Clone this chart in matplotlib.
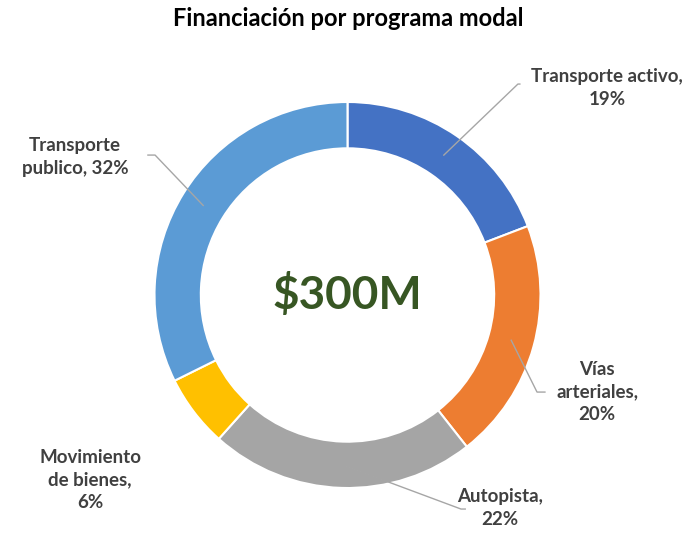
import matplotlib.pyplot as plt
import numpy as np

plt.rcParams['font.family'] = ['Lato', 'DejaVu Sans']

# DATA
labels = ['Transporte activo,\n19%', 'Vías\narteriales,\n20%', 'Autopista,\n22%',
          'Movimiento\nde bienes,\n6%', 'Transporte\npublico, 32%']
shares = [19, 20, 22, 6, 32]
colors = ['#4472C4', '#ED7D31', '#A5A5A5', '#FFC000', '#5B9BD5']
total = '$300M'

# label text centres and leader kinks (data units, radius = 1)
text_xy = [(1.345, 1.073), (1.293, -0.503), (0.79, -1.104), (-1.334, -0.959), (-1.412, 0.715)]
kinks = [((0.883, 1.093), (0.893, 1.093)),
         ((0.982, -0.503), (1.023, -0.503)),
         ((0.588, -1.109), (0.61, -1.109)),
         None,
         ((-0.997, 0.725), (-1.034, 0.725))]

W, H = 697, 536
fig = plt.figure(figsize=(W/100, H/100), dpi=100)
cx, cy, r = 347.5, 295, 193
ax = fig.add_axes([(cx-r)/W, (H-cy-r)/H, 2*r/W, 2*r/H])

wedges, _ = ax.pie(shares, colors=colors, startangle=90, counterclock=False, radius=1,
                   wedgeprops=dict(width=0.24, edgecolor='white', linewidth=1.5))
ax.set_xlim(-1, 1)
ax.set_ylim(-1, 1)
ax.set_aspect('equal')
ax.axis('off')

tot = sum(shares)
cum = np.cumsum([0] + shares)
for i, lab in enumerate(labels):
    mid = (cum[i] + shares[i]/2) / tot * 2*np.pi
    sx, sy = 0.88*np.sin(mid), 0.88*np.cos(mid)
    if kinks[i] is not None:
        (kx, ky), (ex, ey) = kinks[i]
        ax.plot([sx, kx, ex], [sy, ky, ey], color='#A6A6A6', lw=1, clip_on=False)
    ax.text(text_xy[i][0], text_xy[i][1], lab, ha='center', va='center', fontsize=13.5,
            fontweight='bold', color='#404040', linespacing=1.4, clip_on=False)

ax.text(0, 0, total, ha='center', va='center', fontsize=33, fontweight='bold', color='#375623')

fig.text(0.5, 1 - 18/H, 'Financiación por programa modal', ha='center', va='center',
         fontsize=17, fontweight='bold', color='black')

fig.savefig('out.png', dpi=100, facecolor='white')
